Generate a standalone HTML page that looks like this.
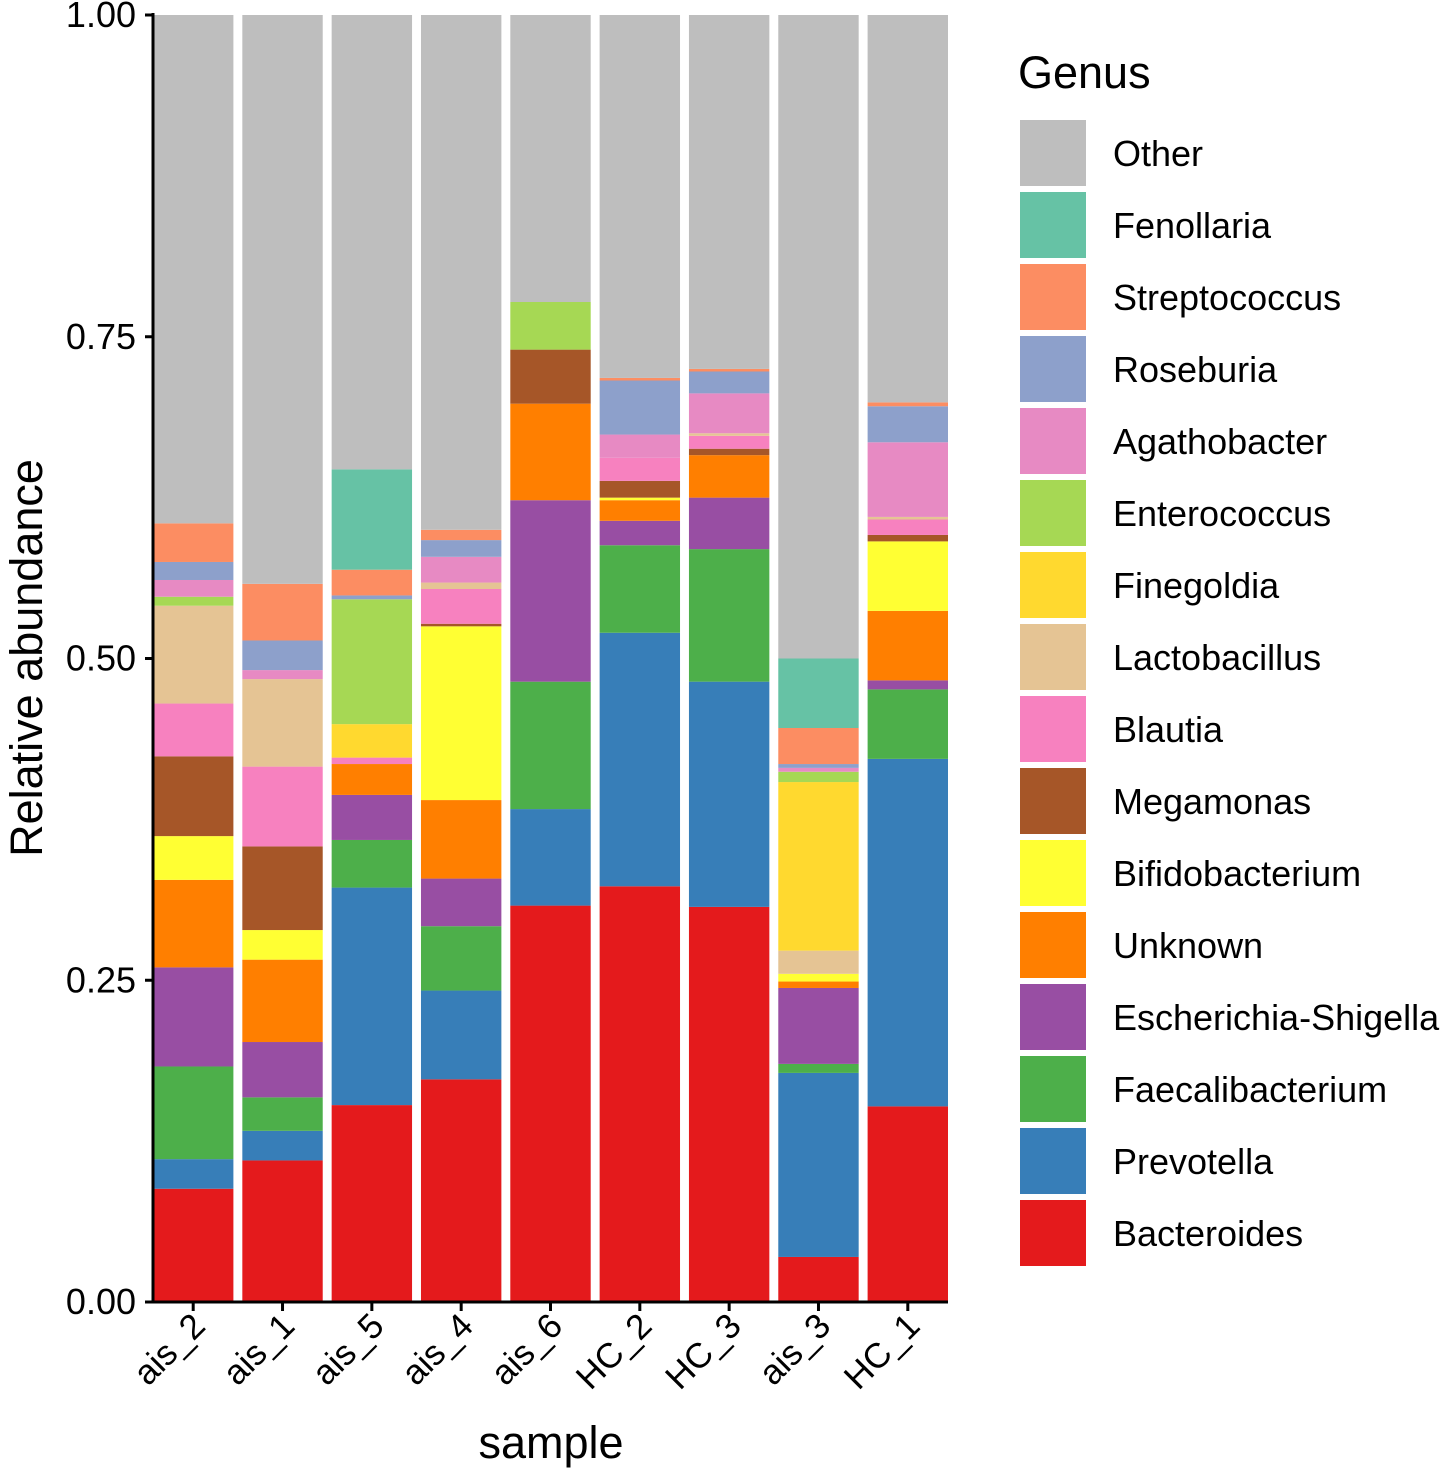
<!DOCTYPE html>
<html><head><meta charset="utf-8"><style>
html,body{margin:0;padding:0;background:#fff;}
svg text{font-family:"Liberation Sans",Arial,sans-serif;}
</style></head><body>
<svg id="chart" width="1440" height="1472" viewBox="0 0 1440 1472" xmlns="http://www.w3.org/2000/svg">
<g id="plot"></g>
<g id="axes"></g>
<g id="legend"></g>
</svg>
<script>
const samples = ["ais_2","ais_1","ais_5","ais_4","ais_6","HC_2","HC_3","ais_3","HC_1"];
const genera = ["Bacteroides","Prevotella","Faecalibacterium","Escherichia-Shigella","Unknown","Bifidobacterium","Megamonas","Blautia","Lactobacillus","Finegoldia","Enterococcus","Agathobacter","Roseburia","Streptococcus","Fenollaria","Other"];
const colors = ["#E41A1C","#377EB8","#4DAF4A","#984EA3","#FF7F00","#FFFF33","#A65628","#F781BF","#E5C494","#FFD92F","#A6D854","#E78AC3","#8DA0CB","#FC8D62","#66C2A5","#BEBEBE"];
const Bacteroides = [0.088,0.110,0.153,0.173,0.308,0.323,0.307,0.035,0.152];
const Prevotella = [0.023,0.023,0.169,0.069,0.075,0.197,0.175,0.143,0.270];
const Faecalibacterium = [0.072,0.026,0.037,0.050,0.099,0.068,0.103,0.007,0.054];
const Escherichia = [0.077,0.043,0.035,0.037,0.141,0.019,0.040,0.059,0.007];
const Unknown = [0.068,0.064,0.024,0.061,0.075,0.016,0.033,0.005,0.054];
const Bifidobacterium = [0.034,0.023,0,0.135,0,0.002,0,0.006,0.054];
const Megamonas = [0.062,0.065,0,0.002,0.042,0.013,0.005,0,0.005];
const Blautia = [0.041,0.062,0.005,0.027,0,0.018,0.010,0,0.012];
const Lactobacillus = [0.076,0.068,0,0.005,0,0,0.002,0.018,0.002];
const Finegoldia = [0,0,0.026,0,0,0,0,0.131,0];
const Enterococcus = [0.007,0,0.097,0,0.037,0,0,0.008,0];
const Agathobacter = [0.013,0.007,0,0.020,0,0.018,0.031,0.003,0.058];
const Roseburia = [0.014,0.023,0.003,0.013,0,0.042,0.017,0.003,0.028];
const Streptococcus = [0.030,0.044,0.020,0.008,0,0.002,0.002,0.028,0.003];
const Fenollaria = [0,0,0.078,0,0,0,0,0.054,0];
const Other = [0.395,0.349,0.353,0.400,0.224,0.282,0.289,0.500,0.301];
const series = [Bacteroides,Prevotella,Faecalibacterium,Escherichia,Unknown,Bifidobacterium,Megamonas,Blautia,Lactobacillus,Finegoldia,Enterococcus,Agathobacter,Roseburia,Streptococcus,Fenollaria,Other];
const yTicks = [0,0.25,0.5,0.75,1];
const yTickLabels = ["0.00","0.25","0.50","0.75","1.00"];

const NS="http://www.w3.org/2000/svg";
const X0=153, X1=948, Y0=1302, Y1=15;
const step=(X1-X0)/(samples.length-0.1), bw=step*0.9;
const xc=i=>X0+bw/2+step*i;
const y=v=>Y0-(Y0-Y1)*v;
function mk(tag,attrs,parent){const e=document.createElementNS(NS,tag);for(const k in attrs)e.setAttribute(k,attrs[k]);parent.appendChild(e);return e;}
const plot=document.getElementById('plot'), axes=document.getElementById('axes'), legend=document.getElementById('legend');

samples.forEach((s,i)=>{
  let cum=0;
  series.forEach((arr,j)=>{
    const v = (j===series.length-1) ? Math.max(0,1-cum) : arr[i];
    if(v<=0){return;}
    const r=mk('rect',{x:xc(i)-bw/2,y:y(cum+v),width:bw,height:y(cum)-y(cum+v),fill:colors[j]},plot);
    
    
    cum+=v;
  });
});

let l=mk('line',{x1:X0,y1:Y1-2,x2:X0,y2:Y0+1.5,stroke:'#000','stroke-width':3},axes);

l=mk('line',{x1:X0-1.5,y1:Y0,x2:X1,y2:Y0,stroke:'#000','stroke-width':3},axes);

yTicks.forEach((t,k)=>{
  const tk=mk('line',{x1:X0-8,y1:y(t),x2:X0,y2:y(t),stroke:'#000','stroke-width':3},axes);
  
  const tx=mk('text',{x:X0-17,y:y(t)+12,'text-anchor':'end','font-size':36,fill:'#000'},axes);
  tx.textContent=yTickLabels[k];
  
});
samples.forEach((s,i)=>{
  const tk=mk('line',{x1:xc(i),y1:Y0,x2:xc(i),y2:Y0+9,stroke:'#000','stroke-width':3},axes);
  
  const tx=mk('text',{x:0,y:0,'text-anchor':'end','font-size':35,fill:'#000',transform:`translate(${xc(i)+14},${Y0+26}) rotate(-45)`},axes);
  tx.textContent=s;
  
});
let t=mk('text',{x:551,y:1458,'text-anchor':'middle','font-size':45,fill:'#000'},axes);
t.textContent='sample';
t=mk('text',{x:0,y:0,'text-anchor':'middle','font-size':45,fill:'#000',transform:'translate(42,658) rotate(-90)'},axes);
t.textContent='Relative abundance';

t=mk('text',{x:1018,y:88,'font-size':45,fill:'#000'},legend);
t.textContent='Genus';
const order=genera.slice().reverse(), ocol=colors.slice().reverse();
order.forEach((g,k)=>{
  const r=mk('rect',{x:1020,y:120+72*k,width:66,height:66,fill:ocol[k]},legend);
  
  const tx=mk('text',{x:1113,y:120+72*k+46,'font-size':36,fill:'#000'},legend);
  tx.textContent=g;
  
});
</script>
</body></html>
